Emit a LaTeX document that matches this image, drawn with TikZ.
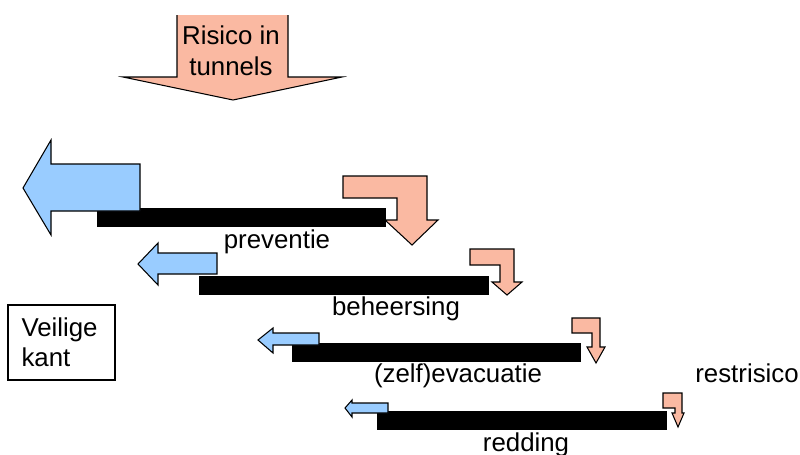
\documentclass[tikz,border=0pt]{standalone}
\usepackage{fontspec}
\setmainfont{Liberation Sans}
\usepackage{xcolor}
\usetikzlibrary{positioning}
\definecolor{risk-salmon}{RGB}{250,185,162}
\definecolor{safe-blue}{RGB}{153,204,255}

\tikzset{
  lbl/.style={font=\fontsize{14.7}{17.6}\selectfont, inner sep=0pt},
  barbox/.style={fill=black, inner sep=0pt, minimum width=5.8cm, minimum height=0.38cm},
  safearrow/.style={fill=safe-blue, draw=black, line width=0.6pt},
  riskarrow/.style={fill=risk-salmon, draw=black, line width=0.6pt}
}

\begin{document}
\begin{tikzpicture}[x=0.02cm, y=-0.02cm]
  \useasboundingbox (0,0) rectangle (800,454);

  % Risico in tunnels
  \fill[risk-salmon] (177,15) -- (288,15) -- (288,77) -- (342,77) -- (233,100) -- (123,77) -- (177,77) -- cycle;
  \draw[line width=0.6pt] (177,15) -- (177,77) -- (123,77) -- (233,100) -- (342,77) -- (288,77) -- (288,15);
  \node[lbl, align=center] (risico) at (231,51) {Risico in\\tunnels};

  % balken
  \node[barbox] (bar1) at (241.5,217.5) {};
  \node[barbox] (bar2) at (344,285) {};
  \node[barbox] (bar3) at (436.5,352.5) {};
  \node[barbox] (bar4) at (522,420.5) {};

  % preventie
  \draw[safearrow] (140,164) -- (51,164) -- (51,140) -- (23,188) -- (51,235) -- (51,211) -- (140,211) -- cycle;
  \draw[riskarrow] (343,176) -- (427,176) -- (427,220) -- (438,220) -- (412,245) -- (385,220) -- (397,220) -- (397,198) -- (343,198) -- cycle;
  \node[lbl, anchor=base] (preventie) at (277,248) {preventie};

  % beheersing
  \draw[safearrow] (217,253) -- (158,253) -- (158,243) -- (138,264) -- (158,285) -- (158,274) -- (217,274) -- cycle;
  \draw[riskarrow] (470,249) -- (514,249) -- (514,282) -- (522,282) -- (507,295) -- (492,282) -- (500,282) -- (500,265) -- (470,265) -- cycle;
  \node[lbl, anchor=base] (beheersing) at (396,315) {beheersing};

  % (zelf)evacuatie
  \draw[safearrow] (319,333) -- (273,333) -- (273,328) -- (258,340) -- (273,353) -- (273,345) -- (319,345) -- cycle;
  \draw[riskarrow] (572,318) -- (600,318) -- (600,347) -- (605,347) -- (596,363) -- (587,347) -- (592,347) -- (592,333) -- (572,333) -- cycle;
  \node[lbl, anchor=base] (evacuatie) at (458,382) {(zelf)evacuatie};

  % redding
  \draw[safearrow] (388,403) -- (352,403) -- (352,400) -- (345,408) -- (352,417) -- (352,413) -- (388,413) -- cycle;
  \draw[riskarrow] (663,393) -- (682,393) -- (682,413) -- (684,413) -- (678,427) -- (672,413) -- (675,413) -- (675,408) -- (663,408) -- cycle;
  \node[lbl, anchor=base] (redding) at (526,451) {redding};

  \node[lbl, anchor=base west] (restrisico) at (695,382) {restrisico};

  % Veilige kant
  \node[draw, line width=0.8pt, font=\fontsize{14.7}{17}\selectfont, align=left, text width=1.6cm,
        inner xsep=0.27cm, minimum width=2.14cm, minimum height=1.5cm] (veilig) at (61.5,342.5) {Veilige\\kant};
\end{tikzpicture}
\end{document}
